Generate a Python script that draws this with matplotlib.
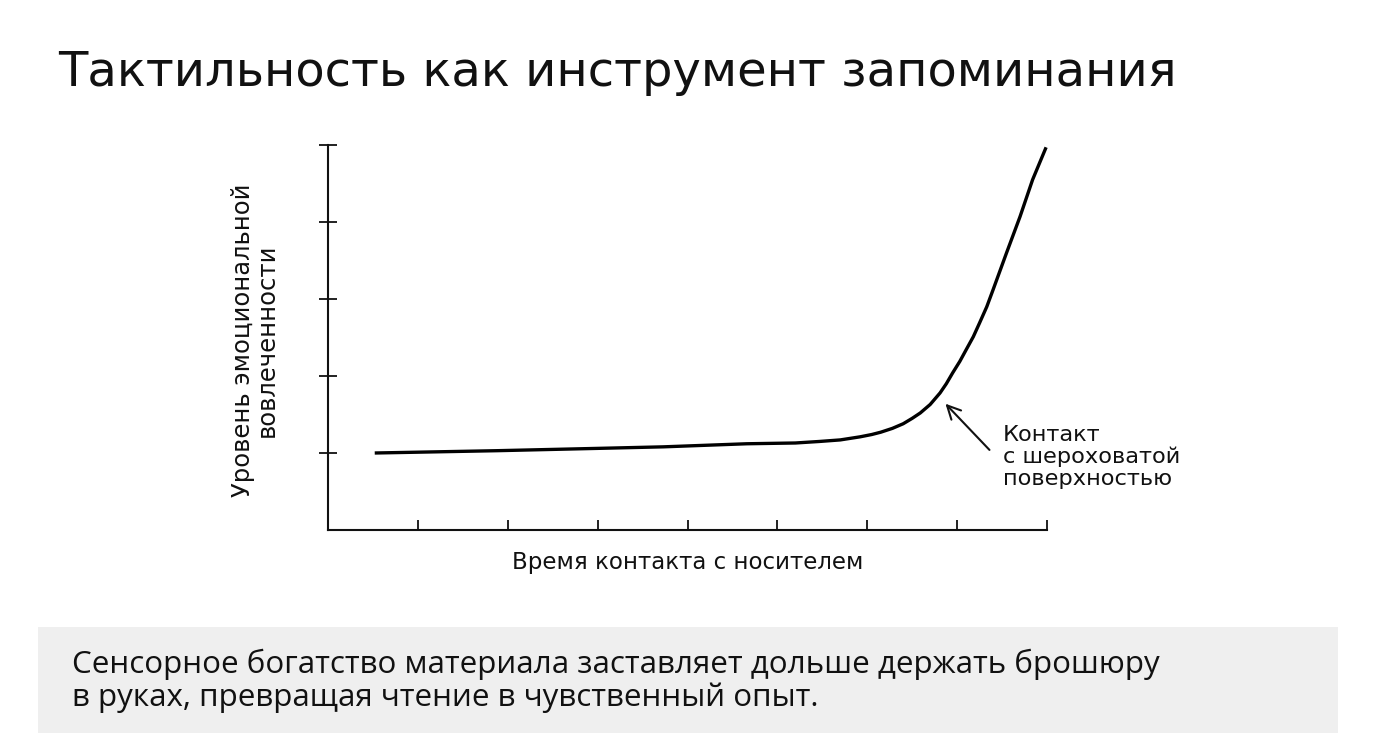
import matplotlib
matplotlib.use("Agg")
import matplotlib.pyplot as plt
from matplotlib.patches import Rectangle

plt.rcParams['font.family'] = ['DejaVu Sans']

# ---- data ----
title = "Тактильность как инструмент запоминания"
x_label = "Время контакта с носителем"
y_label = "Уровень эмоциональной\nвовлеченности"
annotation = "Контакт\nс шероховатой\nповерхностью"
caption = ("Сенсорное богатство материала заставляет дольше держать брошюру\n"
           "в руках, превращая чтение в чувственный опыт.")

x_ticks = [0, 1, 2, 3, 4, 5, 6, 7, 8]
y_ticks = [1, 2, 3, 4, 5]

curve_x = [0.52, 1.88, 3.00, 3.73, 4.66, 5.20, 5.47, 5.70, 5.92, 6.05, 6.15,
           6.28, 6.40, 6.50, 6.59, 6.70, 6.81, 6.88, 6.95, 7.03, 7.10, 7.18,
           7.25, 7.33, 7.40, 7.55, 7.70, 7.84, 7.99]
curve_y = [1.00, 1.03, 1.06, 1.08, 1.12, 1.13, 1.15, 1.17, 1.21, 1.24, 1.27,
           1.32, 1.38, 1.45, 1.52, 1.63, 1.78, 1.90, 2.04, 2.19, 2.34, 2.51,
           2.69, 2.90, 3.12, 3.60, 4.07, 4.55, 4.97]

arrow_tip = (6.87, 1.64)
arrow_tail = (7.36, 1.04)

# ---- figure ----
W, H = 1376, 745
fig = plt.figure(figsize=(W / 100, H / 100), dpi=100)
fig.patch.set_facecolor('white')

ax_left, ax_right = 328 / W, 1047 / W
ax_bottom, ax_top = 1 - 530 / H, 1 - 145 / H
ax = fig.add_axes([ax_left, ax_bottom, ax_right - ax_left, ax_top - ax_bottom])
ax.set_xlim(0, 8)
ax.set_ylim(0, 5)
for s in ['top', 'right']:
    ax.spines[s].set_visible(False)
for s in ['left', 'bottom']:
    ax.spines[s].set_linewidth(1.5)
    ax.spines[s].set_color('#111111')

ax.set_xticks(x_ticks[1:])
ax.set_yticks(y_ticks)
ax.set_xticklabels([])
ax.set_yticklabels([])
ax.tick_params(axis='x', direction='in', length=7.5, width=1.3, color='#111111')
ax.tick_params(axis='y', direction='inout', length=13, width=1.3, color='#111111')

ax.plot(curve_x, curve_y, color='black', lw=2.4, solid_capstyle='butt',
        solid_joinstyle='round', clip_on=False)

ax.annotate('', xy=arrow_tip, xytext=arrow_tail,
            arrowprops=dict(arrowstyle='->', color='#111111', lw=1.5,
                            mutation_scale=24, shrinkA=0, shrinkB=0))
fig.text(1003 / W, 1 - 457 / H, annotation, fontsize=16.2, color='#111111',
         ha='left', va='center', linespacing=1.1)

fig.text(688 / W, 1 - 563 / H, x_label, fontsize=16.5, color='#111111',
         ha='center', va='center')
fig.text(255 / W, 1 - 340 / H, y_label, fontsize=17.5, color='#111111',
         ha='center', va='center', rotation=90, linespacing=0.95)

fig.text(58 / W, 1 - 72 / H, title, fontsize=34.6, color='#111111',
         ha='left', va='center')

# caption box
box = Rectangle((38 / W, 1 - 733 / H), (1338 - 38) / W, (733 - 627) / H,
                transform=fig.transFigure, facecolor='#efefef', edgecolor='none')
fig.patches.append(box)
fig.text(72 / W, 1 - 681 / H, caption, fontsize=22.6, color='#111111',
         ha='left', va='center', linespacing=1.12, family=['Open Sans', 'DejaVu Sans'])

fig.savefig('out.png', dpi=100, facecolor='white')
